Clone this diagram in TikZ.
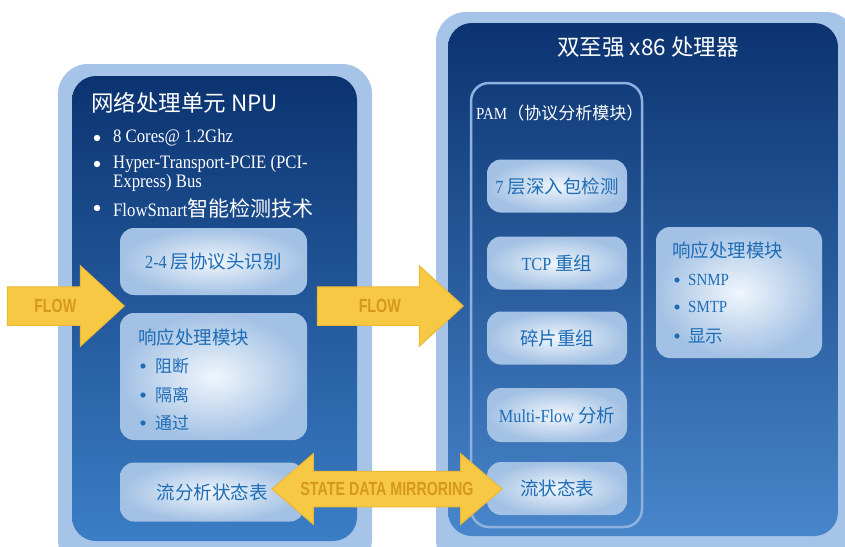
\documentclass[tikz,border=0pt]{standalone}
\usepackage{fontspec}
\setmainfont{Liberation Serif}[FakeStretch=0.88]
\newfontfamily\cjk{Noto Sans CJK SC}
\newfontfamily\flowfont{Liberation Sans}[FakeStretch=0.75]
\usetikzlibrary{shapes.arrows}
\definecolor{frame}{HTML}{A6C4E8}
\definecolor{navytop}{HTML}{0B3370}
\definecolor{navybot}{HTML}{3B7EC6}
\definecolor{navybotr}{HTML}{4886CB}
\definecolor{boxin}{HTML}{F0F6FC}
\definecolor{boxout}{HTML}{A3C1E4}
\definecolor{txtblue}{HTML}{1E6DB6}
\definecolor{gold}{HTML}{F6C844}
\definecolor{goldedge}{HTML}{EDB934}
\definecolor{golddark}{HTML}{D6991A}
\definecolor{pamline}{HTML}{8DB2DF}
\tikzset{
  box/.style={rounded corners=14pt, inner color=boxin, outer color=boxout, inner sep=0pt},
  boxtext/.style={text=txtblue, font=\fontsize{18.5}{20}\selectfont, inner sep=0pt},
  cjkbox/.style={boxtext, font=\cjk\fontsize{18.5}{18.5}\selectfont},
  wtext/.style={text=white, font=\fontsize{19}{19}\selectfont, inner sep=0pt, anchor=west},
  bigarrow/.style={fill=gold, draw=goldedge, line width=1pt, text=golddark,
    font=\flowfont\bfseries\fontsize{19}{19}\selectfont, text height=13.5pt, text depth=0pt,
    inner ysep=12pt, inner xsep=4pt},
}
\begin{document}
\begin{tikzpicture}[x=1pt,y=-1pt]
\clip (0,0) rectangle (845,546);
\fill[white] (0,0) rectangle (845,546);
% left panel
\path[fill=frame, rounded corners=30pt] (58,64) rectangle (372,570);
\path[top color=navytop, bottom color=navybot, rounded corners=24pt] (72,76) rectangle (357,541);
% right panel
\path[fill=frame, rounded corners=30pt] (436,12) rectangle (856,570);
\path[top color=navytop, bottom color=navybotr, rounded corners=24pt] (448,23) rectangle (838,536);

% left title and bullets
\node[wtext, font=\cjk\fontsize{22.5}{22.5}\selectfont] (ltitle) at (91,103) {网络处理单元 NPU};
\fill[white] (97,138) circle (3.2pt);
\node[wtext] (lb1) at (113,138) {8 Cores@ 1.2Ghz};
\fill[white] (97,164) circle (3.2pt);
\node[wtext, align=left, font=\fontsize{19}{19}\selectfont] (lb2) at (113,173) {Hyper-Transport-PCIE (PCI-\\Express) Bus};
\fill[white] (97,208) circle (3.2pt);
\node[wtext] (lb3) at (113,208) {FlowSmart{\cjk\fontsize{21}{21}\selectfont 智能检测技术}};

% left boxes
\node[box, minimum width=187pt, minimum height=67pt] (l1) at (213.5,261.5) {};
\node[boxtext] at (l1) {2-4 {\cjk 层协议头识别}};
\node[box, minimum width=187pt, minimum height=127pt] (l2) at (213.5,376.5) {};
\node[cjkbox, anchor=west] (l2t) at (138,337) {响应处理模块};
\fill[txtblue] (143,366) circle (2.6pt);
\node[cjkbox, anchor=west, font=\cjk\fontsize{17}{17}\selectfont] (l2a) at (155,366) {阻断};
\fill[txtblue] (143,395) circle (2.6pt);
\node[cjkbox, anchor=west, font=\cjk\fontsize{17}{17}\selectfont] (l2b) at (155,395) {隔离};
\fill[txtblue] (143,423) circle (2.6pt);
\node[cjkbox, anchor=west, font=\cjk\fontsize{17}{17}\selectfont] (l2c) at (155,423) {通过};
\node[box, minimum width=184pt, minimum height=59pt] (l3) at (212,492) {};
\node[cjkbox] at (l3) {流分析状态表};

% right title
\node[text=white, font=\cjk\fontsize{22.5}{22.5}\selectfont, inner sep=0pt] (rtitle) at (648,47) {双至强 x86 处理器};

% PAM container
\node[draw=pamline, line width=2.5pt, rounded corners=18pt, minimum width=171pt, minimum height=444pt, inner sep=0pt] (pam) at (556.5,305) {};
\node[text=white, font=\fontsize{17}{17}\selectfont, inner sep=0pt, anchor=west] (pamt) at (476,113) {PAM{\cjk （协议分析模块）}};

\node[box, minimum width=140pt, minimum height=53pt] (r1) at (557,186) {};
\node[boxtext] at (r1) {7 {\cjk 层深入包检测}};
\node[box, minimum width=140pt, minimum height=53pt] (r2) at (557,263) {};
\node[boxtext] at (r2) {TCP {\cjk 重组}};
\node[box, minimum width=140pt, minimum height=53pt] (r3) at (557,338) {};
\node[cjkbox] at (r3) {碎片重组};
\node[box, minimum width=140pt, minimum height=54pt] (r4) at (557,415) {};
\node[boxtext] at (r4) {Multi-Flow {\cjk 分析}};
\node[box, minimum width=140pt, minimum height=53pt] (r5) at (557,488.5) {};
\node[cjkbox] at (r5) {流状态表};

% right response box
\node[box, minimum width=166pt, minimum height=131pt] (rr) at (739,292.5) {};
\node[cjkbox, anchor=west] (rrt) at (672,250) {响应处理模块};
\fill[txtblue] (677,280) circle (2.6pt);
\node[boxtext, anchor=west, font=\fontsize{17}{17}\selectfont] (rra) at (688,280) {SNMP};
\fill[txtblue] (677,307) circle (2.6pt);
\node[boxtext, anchor=west, font=\fontsize{17}{17}\selectfont] (rrb) at (688,307) {SMTP};
\fill[txtblue] (677,336) circle (2.6pt);
\node[cjkbox, anchor=west, font=\cjk\fontsize{17.5}{17.5}\selectfont] (rrc) at (688,336) {显示};

% arrows
\node[bigarrow, single arrow, single arrow head extend=21pt, single arrow tip angle=85,
  minimum height=117pt, anchor=tip] (flow1) at (125,306) {FLOW};
\node[bigarrow, single arrow, single arrow head extend=21pt, single arrow tip angle=85,
  minimum height=146pt, anchor=tip] (flow2) at (464,306) {FLOW};
\node[bigarrow, double arrow, double arrow head extend=17.5pt, double arrow tip angle=81,
  minimum height=230pt, inner ysep=10.5pt] (mirror) at (387,489) {STATE DATA MIRRORING};
\end{tikzpicture}
\end{document}
